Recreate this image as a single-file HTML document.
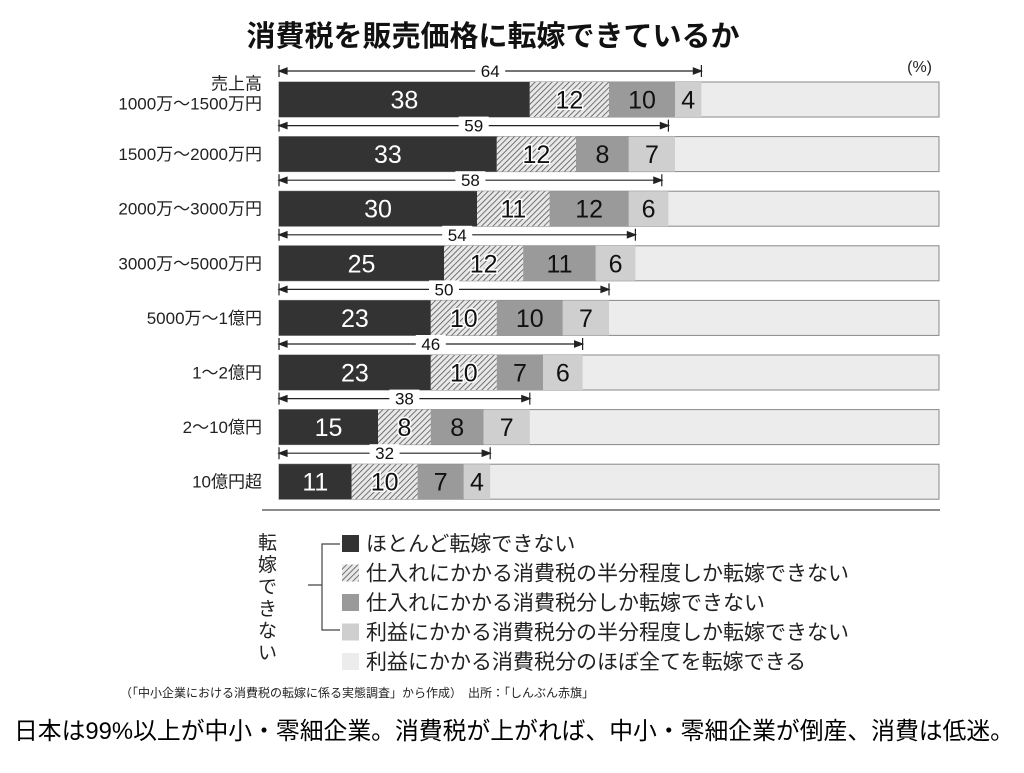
<!DOCTYPE html>
<html><head><meta charset="utf-8">
<style>
body{margin:0;background:#fff;width:1024px;height:768px;overflow:hidden;font-family:"Liberation Sans","Noto Sans CJK JP",sans-serif;}
svg text{font-family:"Liberation Sans","Noto Sans CJK JP",sans-serif;}
</style></head>
<body>
<svg id="chart" width="1024" height="768">
<defs>
<pattern id="hatch" width="4" height="4" patternUnits="userSpaceOnUse" patternTransform="rotate(45)">
<rect width="4" height="4" fill="#e8e8e8"/><line x1="0" y1="0" x2="0" y2="4" stroke="#555" stroke-width="1.6"/>
</pattern>
</defs>
<text x="493" y="46" text-anchor="middle" font-size="29" font-weight="bold" fill="#111">消費税を販売価格に転嫁できているか</text>
<text x="932" y="72" text-anchor="end" font-size="16" fill="#222">(%)</text>
<g id="bars"></g>
<line x1="262" y1="510" x2="940" y2="510" stroke="#666" stroke-width="1.5"/>
<g>
<text font-size="19" fill="#222"><tspan x="258" y="549">転</tspan><tspan x="258" y="571">嫁</tspan><tspan x="258" y="593">で</tspan><tspan x="258" y="615">き</tspan><tspan x="258" y="637">な</tspan><tspan x="258" y="659">い</tspan></text>
<path d="M340 544 H322 V630 H340 M308 585 H322" fill="none" stroke="#444" stroke-width="1.2"/>
<g id="legend"></g>
</g>
<text x="120" y="697" font-size="12" fill="#222">（「中小企業における消費税の転嫁に係る実態調査」から作成）　出所：「しんぶん赤旗」</text>
<text x="514" y="739" text-anchor="middle" font-size="24" fill="#000" textLength="1000" lengthAdjust="spacingAndGlyphs">日本は99%以上が中小・零細企業。消費税が上がれば、中小・零細企業が倒産、消費は低迷。</text>
</svg>
<script>
const categories=["1000万〜1500万円","1500万〜2000万円","2000万〜3000万円","3000万〜5000万円","5000万〜1億円","1〜2億円","2〜10億円","10億円超"];
const seriesNone=[38,33,30,25,23,23,15,11];
const seriesHalfPurchase=[12,12,11,12,10,10,8,10];
const seriesPurchase=[10,8,12,11,10,7,8,7];
const seriesHalfProfit=[4,7,6,6,7,6,7,4];
const totals=[64,59,58,54,50,46,38,32];
const legendLabels=["ほとんど転嫁できない","仕入れにかかる消費税の半分程度しか転嫁できない","仕入れにかかる消費税分しか転嫁できない","利益にかかる消費税分の半分程度しか転嫁できない","利益にかかる消費税分のほぼ全てを転嫁できる"];
const fills=["#333","url(#hatch)","#9a9a9a","#cfcfcf","#ececec"];
const textCol=["#fff","#111","#111","#111"];
const NS="http://www.w3.org/2000/svg";
const x0=279,x1=939;
const xs=v=>x0+(x1-x0)*v/100;
const rowY=i=>82+i*54.6;
const bh=35;
function mk(t,a,p){const e=document.createElementNS(NS,t);for(const k in a)e.setAttribute(k,a[k]);p.appendChild(e);return e;}
const g=document.getElementById('bars');
const series=[seriesNone,seriesHalfPurchase,seriesPurchase,seriesHalfProfit];
categories.forEach((c,i)=>{
  const y=rowY(i);
  const bg=mk('rect',{x:x0,y:y,width:x1-x0,height:bh,fill:fills[4],stroke:'#888','stroke-width':1},g);
  
  
  let acc=0;
  series.forEach((s,k)=>{
    const v=s[i];
    const r=mk('rect',{x:xs(acc),y:y,width:xs(acc+v)-xs(acc),height:bh,fill:fills[k]},g);
    
    
    const t=mk('text',{x:(xs(acc)+xs(acc+v))/2,y:y+bh/2+9,'text-anchor':'middle','font-size':25,fill:textCol[k]},g);
    if(k==1){t.setAttribute('stroke','#fff');t.setAttribute('stroke-width','3');t.setAttribute('paint-order','stroke');}
    t.textContent=v;
    
    
    acc+=v;
  });
  const ay=y-11;
  const xe=xs(totals[i]);
  const ln=mk('path',{d:`M${x0} ${ay}H${xe}M${x0} ${ay-6}V${ay+6}M${xe} ${ay-6}V${ay+6}M${x0} ${ay}l8 -3v6zM${xe} ${ay}l-8 -3v6z`,stroke:'#222','stroke-width':1.2,fill:'#222'},g);
  
  
  const mx=(x0+xe)/2;
  const bgT=mk('rect',{x:mx-15,y:ay-9,width:30,height:17,fill:'#fff'},g);
  
  
  const tt=mk('text',{x:mx,y:ay+6,'text-anchor':'middle','font-size':17,fill:'#111'},g);
  tt.textContent=totals[i];
  
  
  const lab=mk('text',{x:262,y:y+bh/2+6,'text-anchor':'end','font-size':17,fill:'#222'},g);
  if(i==0){lab.setAttribute('y',y+bh/2-2);
    const s1=mk('tspan',{x:262,dy:-8},lab);s1.textContent='売上高';
    const s2=mk('tspan',{x:262,dy:20},lab);s2.textContent=c;}
  else lab.textContent=c;
  
  
});
const lg=document.getElementById('legend');
legendLabels.forEach((l,k)=>{
  const y=535+k*29.5;
  const r=mk('rect',{x:342,y:y,width:17,height:17,fill:fills[k]},lg);
  
  
  const t=mk('text',{x:366,y:y+16,'font-size':21,fill:'#222'},lg);
  t.textContent=l;
  
  
});
</script>
</body></html>
